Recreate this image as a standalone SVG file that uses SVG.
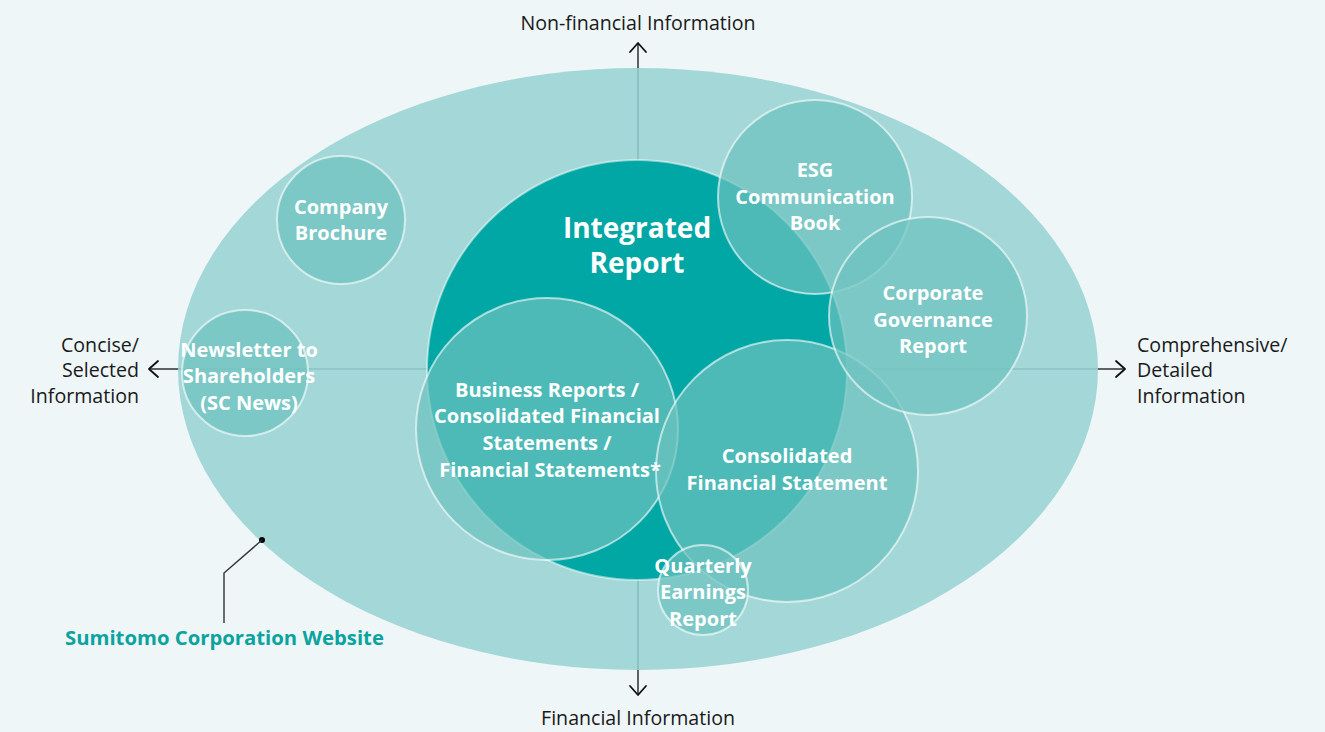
<svg xmlns="http://www.w3.org/2000/svg" width="1325" height="732" viewBox="0 0 1325 732">
<defs>
<style>
.lbl{font-family:"Open Sans","Noto Sans","Liberation Sans",sans-serif;font-size:19.6px;fill:#1a1a1a}
.nt{font-family:"Open Sans","Noto Sans","Liberation Sans",sans-serif;font-size:20px;font-weight:700;fill:#ffffff;text-anchor:middle}
.big{font-size:28px;font-weight:700}
.bub{fill:#6CC2BE;fill-opacity:0.71;stroke:#ffffff;stroke-opacity:0.6;stroke-width:2}
.axin{stroke:#4f8f93;stroke-opacity:0.45;stroke-width:1.2;fill:none}
.axout{stroke:#222;stroke-width:1.4;fill:none}
.head{stroke:#111;stroke-width:1.8;fill:none;stroke-linecap:round;stroke-linejoin:round}
</style>
</defs>
<rect width="1325" height="732" fill="#EEF6F8"/>
<g id="website">
<ellipse cx="638" cy="369" rx="460" ry="301" fill="#A3D7D8"/>
</g>
<g id="connectors">
<line class="axin" x1="638" y1="68" x2="638" y2="670"/>
<line class="axin" x1="178" y1="369" x2="1098" y2="369"/>
<line class="axout" x1="638" y1="44" x2="638" y2="68"/>
<line class="axout" x1="638" y1="670" x2="638" y2="694"/>
<line class="axout" x1="150" y1="369" x2="178" y2="369"/>
<line class="axout" x1="1098" y1="369" x2="1124" y2="369"/>
<path class="head" d="M630,52 L638,43 L646,52"/>
<path class="head" d="M630,686 L638,695 L646,686"/>
<path class="head" d="M158,361 L149,369 L158,377"/>
<path class="head" d="M1116,361 L1125,369 L1116,377"/>
<circle cx="262" cy="540" r="3" fill="#000"/>
<path d="M262,540 L224,573 L224,623" stroke="#333" stroke-width="1.4" fill="none"/>
</g>
<g id="integrated-report">
<circle cx="637" cy="370" r="210" fill="#00A7A5" stroke="#ffffff" stroke-opacity="0.5" stroke-width="2"/>
<text class="nt big" x="637" y="238">Integrated</text>
<text class="nt big" x="637" y="273">Report</text>
</g>
<g id="company-brochure">
<circle class="bub" cx="341" cy="220" r="64"/>
<text class="nt" x="341" y="214">Company</text>
<text class="nt" x="341" y="240">Brochure</text>
</g>
<g id="newsletter">
<circle class="bub" cx="245" cy="373" r="63"/>
<text class="nt" x="249" y="357">Newsletter to</text>
<text class="nt" x="249" y="383">Shareholders</text>
<text class="nt" x="249" y="410">(SC News)</text>
</g>
<g id="business-reports">
<circle class="bub" cx="547" cy="429" r="131"/>
</g>
<g id="consolidated-financial-statement">
<circle class="bub" cx="787" cy="471" r="131"/>
</g>
<g id="esg-book">
<circle class="bub" cx="815" cy="197" r="97"/>
</g>
<g id="governance-report">
<circle class="bub" cx="928" cy="316" r="99"/>
</g>
<g id="quarterly-report">
<circle class="bub" cx="703" cy="590" r="45"/>
</g>
<g id="labels-in-nodes">
<text class="nt" x="547" y="397">Business Reports /</text>
<text class="nt" x="547" y="423">Consolidated Financial</text>
<text class="nt" x="547" y="450">Statements /</text>
<text class="nt" x="550" y="477">Financial Statements*</text>
<text class="nt" x="787" y="463">Consolidated</text>
<text class="nt" x="787" y="490">Financial Statement</text>
<text class="nt" x="815" y="177">ESG</text>
<text class="nt" x="815" y="204">Communication</text>
<text class="nt" x="815" y="230">Book</text>
<text class="nt" x="933" y="300">Corporate</text>
<text class="nt" x="933" y="327">Governance</text>
<text class="nt" x="933" y="353">Report</text>
<text class="nt" x="703" y="573">Quarterly</text>
<text class="nt" x="703" y="599">Earnings</text>
<text class="nt" x="703" y="626">Report</text>
</g>
<g id="axis-labels">
<text class="lbl" x="638" y="30" text-anchor="middle">Non-financial Information</text>
<text class="lbl" x="638" y="725" text-anchor="middle">Financial Information</text>
<text class="lbl" x="139" y="352" text-anchor="end">Concise/</text>
<text class="lbl" x="139" y="377" text-anchor="end">Selected</text>
<text class="lbl" x="139" y="403" text-anchor="end">Information</text>
<text class="lbl" x="1137" y="352">Comprehensive/</text>
<text class="lbl" x="1137" y="377">Detailed</text>
<text class="lbl" x="1137" y="403">Information</text>
<text x="65" y="645" style="font-family:'Open Sans','Noto Sans','Liberation Sans',sans-serif;font-size:20.3px;font-weight:700;fill:#0BA3A0">Sumitomo Corporation Website</text>
</g>
</svg>
